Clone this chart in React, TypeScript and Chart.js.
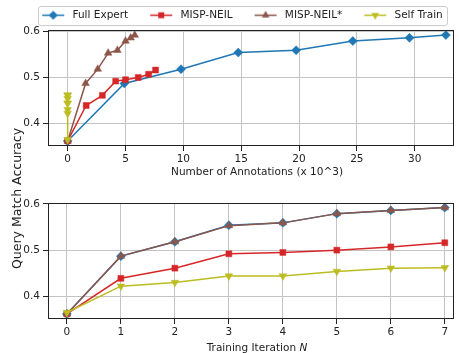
import React, { useEffect, useRef } from 'react';
import { Chart, registerables } from 'chart.js';

Chart.register(...registerables);

// ---------------- data ----------------
const seriesNames = ['Full Expert', 'MISP-NEIL', 'MISP-NEIL*', 'Self Train'];
const iterations = [0, 1, 2, 3, 4, 5, 6, 7];
const fullExpertAnnotations = [0, 4.9, 9.8, 14.75, 19.75, 24.65, 29.55, 32.7];
const mispNeilAnnotations = [0, 1.6, 3.0, 4.15, 5.0, 6.1, 7.0, 7.6];
const mispNeilStarAnnotations = [0, 1.55, 2.6, 3.5, 4.3, 5.0, 5.45, 5.8];
const selfTrainAnnotations = [0, 0, 0, 0, 0, 0, 0, 0];
const fullExpertAccuracy = [0.362, 0.487, 0.518, 0.554, 0.559, 0.579, 0.586, 0.592];
const mispNeilAccuracy = [0.362, 0.439, 0.461, 0.492, 0.495, 0.5, 0.507, 0.516];
const mispNeilStarAccuracy = [0.362, 0.487, 0.518, 0.553, 0.559, 0.579, 0.586, 0.592];
const selfTrainAccuracy = [0.365, 0.422, 0.43, 0.444, 0.444, 0.454, 0.461, 0.462];
const annotationTicks = [0, 5, 10, 15, 20, 25, 30];
const iterationTicks = [0, 1, 2, 3, 4, 5, 6, 7];
const accuracyTicks = [0.4, 0.5, 0.6];

const annotationSeries = [fullExpertAnnotations, mispNeilAnnotations, mispNeilStarAnnotations, selfTrainAnnotations];
const accuracySeries = [fullExpertAccuracy, mispNeilAccuracy, mispNeilStarAccuracy, selfTrainAccuracy];

// ---------------- styles ----------------
const FONT = "'DejaVu Sans', sans-serif";
const TEXT = '#222222';
const GRID = '#c4c4c4';
const seriesStyles = [
  { color: '#1f77b4', pointStyle: 'rectRot', rotation: 0, radius: 4.5 },
  { color: '#d62728', pointStyle: 'rect', rotation: 0, radius: 4.2 },
  { color: '#8c564b', pointStyle: 'triangle', rotation: 0, radius: 4.4 },
  { color: '#bcbd22', pointStyle: 'triangle', rotation: 180, radius: 4.4 },
];

function makeHandle(idx: number): HTMLCanvasElement {
  const st = seriesStyles[idx];
  const c = document.createElement('canvas');
  c.width = 37;
  c.height = 13;
  const ctx = c.getContext('2d')!;
  const cy = 6.5;
  const cx = 23;
  ctx.strokeStyle = st.color;
  ctx.fillStyle = st.color;
  ctx.lineWidth = 1.5;
  ctx.beginPath();
  ctx.moveTo(12, cy);
  ctx.lineTo(34, cy);
  ctx.stroke();
  const r = st.radius;
  ctx.beginPath();
  if (st.pointStyle === 'rectRot') {
    ctx.moveTo(cx, cy - r);
    ctx.lineTo(cx + r, cy);
    ctx.lineTo(cx, cy + r);
    ctx.lineTo(cx - r, cy);
  } else if (st.pointStyle === 'rect') {
    const s = r * Math.SQRT1_2;
    ctx.rect(cx - s, cy - s, 2 * s, 2 * s);
  } else {
    const dir = st.rotation === 180 ? -1 : 1;
    ctx.moveTo(cx, cy - dir * r);
    ctx.lineTo(cx + 0.866 * r, cy + dir * 0.5 * r);
    ctx.lineTo(cx - 0.866 * r, cy + dir * 0.5 * r);
  }
  ctx.closePath();
  ctx.fill();
  return c;
}

const framePlugin = {
  id: 'frame',
  afterDraw(chart: any) {
    const { ctx, chartArea: a } = chart;
    ctx.save();
    ctx.strokeStyle = TEXT;
    ctx.lineWidth = 1;
    const x0 = Math.floor(a.left) + 0.5;
    const y0 = Math.floor(a.top) + 0.5;
    const x1 = Math.ceil(a.right) - 0.5;
    const y1 = Math.ceil(a.bottom) - 0.5;
    ctx.strokeRect(x0, y0, x1 - x0, y1 - y0);
    ctx.restore();
  },
};

const legendFramePlugin = {
  id: 'legendFrame',
  afterDraw(chart: any) {
    const lg = chart.legend;
    if (!lg || !lg.legendHitBoxes || !lg.legendHitBoxes.length) return;
    const hb = lg.legendHitBoxes;
    const first = hb[0];
    const last = hb[hb.length - 1];
    const left = first.left + 8;
    const right = last.left + last.width + 4.5;
    const cy = first.top + first.height / 2;
    const top = cy - 9.5;
    const h = 19;
    const ctx = chart.ctx;
    ctx.save();
    ctx.strokeStyle = '#cccccc';
    ctx.lineWidth = 1;
    ctx.beginPath();
    const x = Math.round(left) + 0.5;
    const y = Math.round(top) + 0.5;
    const w = Math.round(right - left);
    ctx.roundRect(x, y, w, h, 2.5);
    ctx.stroke();
    ctx.restore();
  },
};

function xTitlePlugin(segments: { text: string; italic?: boolean }[], fromBottom: number) {
  return {
    id: 'xTitle',
    afterDraw(chart: any) {
      const { ctx, chartArea: a } = chart;
      ctx.save();
      ctx.fillStyle = TEXT;
      ctx.textBaseline = 'middle';
      ctx.textAlign = 'left';
      const fontOf = (s: any) => (s.italic ? 'italic ' : '') + '10.5px ' + FONT;
      const widths = segments.map((s) => {
        ctx.font = fontOf(s);
        return ctx.measureText(s.text).width;
      });
      const total = widths.reduce((p, q) => p + q, 0);
      let x = (a.left + a.right) / 2 + 6 - total / 2;
      const y = chart.height - fromBottom;
      segments.forEach((s, i) => {
        ctx.font = fontOf(s);
        ctx.fillText(s.text, x, y);
        x += widths[i];
      });
      ctx.restore();
    },
  };
}

function makeDatasets(xSeries: number[][]) {
  return seriesNames.map((name, i) => {
    const st = seriesStyles[i];
    return {
      label: name,
      data: xSeries[i].map((x, j) => ({ x, y: accuracySeries[i][j] })),
      borderColor: st.color,
      backgroundColor: st.color,
      borderWidth: 1.5,
      pointStyle: st.pointStyle,
      pointRotation: st.rotation,
      pointRadius: st.radius,
      pointBackgroundColor: st.color,
      pointBorderColor: st.color,
      pointBorderWidth: 0.5,
      tension: 0,
      order: 3 - i,
    };
  });
}

function tickFont() {
  return { family: FONT, size: 10.5 };
}

function yScale(width: number) {
  return {
    type: 'linear',
    min: 0.351,
    max: 0.602,
    afterBuildTicks: (axis: any) => {
      axis.ticks = accuracyTicks.map((v) => ({ value: v }));
    },
    ticks: {
      font: tickFont(),
      color: TEXT,
      padding: 3,
      callback: (v: any) => Number(v).toFixed(1),
    },
    grid: { color: GRID, tickColor: TEXT, tickLength: 5, lineWidth: 1 },
    border: { display: false },
    afterFit: (axis: any) => {
      axis.width = width;
    },
  };
}

function xScale(min: number, max: number, ticks: number[], height: number) {
  return {
    type: 'linear',
    min,
    max,
    afterBuildTicks: (axis: any) => {
      axis.ticks = ticks.map((v) => ({ value: v }));
    },
    ticks: {
      font: tickFont(),
      color: TEXT,
      padding: 2,
      maxRotation: 0,
      callback: (v: any) => String(v),
    },
    grid: { color: GRID, tickColor: TEXT, tickLength: 5, lineWidth: 1 },
    border: { display: false },
    afterFit: (axis: any) => {
      axis.height = height;
    },
  };
}

export default function App() {
  const topRef = useRef<HTMLCanvasElement>(null);
  const botRef = useRef<HTMLCanvasElement>(null);

  useEffect(() => {
    const handles = seriesNames.map((_, i) => makeHandle(i));
    const top = new Chart(topRef.current!, {
      type: 'line',
      data: { datasets: makeDatasets(annotationSeries) as any },
      options: {
        responsive: false,
        animation: false,
        events: [],
        layout: { padding: { left: 15, right: 1, top: 0, bottom: 0 } },
        plugins: {
          tooltip: { enabled: false },
          legend: {
            display: true,
            position: 'top',
            onClick: () => {},
            labels: {
              usePointStyle: true,
              pointStyleWidth: 37,
              padding: 10,
              color: TEXT,
              font: { family: FONT, size: 10.5 },
              generateLabels: () =>
                seriesNames.map((name, i) => ({
                  text: name,
                  fillStyle: seriesStyles[i].color,
                  strokeStyle: seriesStyles[i].color,
                  lineWidth: 0,
                  pointStyle: handles[i],
                  hidden: false,
                  datasetIndex: i,
                  fontColor: TEXT,
                })) as any,
            },
          },
        },
        scales: {
          x: xScale(-1.7, 33.4, annotationTicks, 34) as any,
          y: yScale(33) as any,
        },
      },
      plugins: [framePlugin, legendFramePlugin, xTitlePlugin([{ text: 'Number of Annotations (x 10^3)' }], 8)],
    });

    const bot = new Chart(botRef.current!, {
      type: 'line',
      data: { datasets: makeDatasets(seriesNames.map(() => iterations)) as any },
      options: {
        responsive: false,
        animation: false,
        events: [],
        layout: { padding: { left: 15, right: 1, top: 23, bottom: 0 } },
        plugins: {
          tooltip: { enabled: false },
          legend: { display: false },
        },
        scales: {
          x: xScale(-0.35, 7.17, iterationTicks, 34) as any,
          y: yScale(33) as any,
        },
      },
      plugins: [
        framePlugin,
        xTitlePlugin([{ text: 'Training Iteration ' }, { text: 'N', italic: true }], 5),
      ],
    });

    return () => {
      top.destroy();
      bot.destroy();
    };
  }, []);

  return (
    <div
      style={{
        position: 'fixed',
        left: 0,
        top: 0,
        width: 459,
        height: 353,
        overflow: 'hidden',
        background: '#ffffff',
      }}
    >
      <canvas ref={topRef} width={459} height={180} style={{ position: 'absolute', left: 0, top: 0 }} />
      <canvas ref={botRef} width={459} height={173} style={{ position: 'absolute', left: 0, top: 180 }} />
      <div
        style={{
          position: 'absolute',
          left: 10,
          top: 123,
          width: 13,
          height: 146,
          writingMode: 'vertical-rl',
          transform: 'rotate(180deg)',
          whiteSpace: 'nowrap',
          fontFamily: FONT,
          fontSize: '12.5px',
          fontWeight: 400,
          color: TEXT,
          lineHeight: '13px',
        }}
      >
        Query Match Accuracy
      </div>
    </div>
  );
}
